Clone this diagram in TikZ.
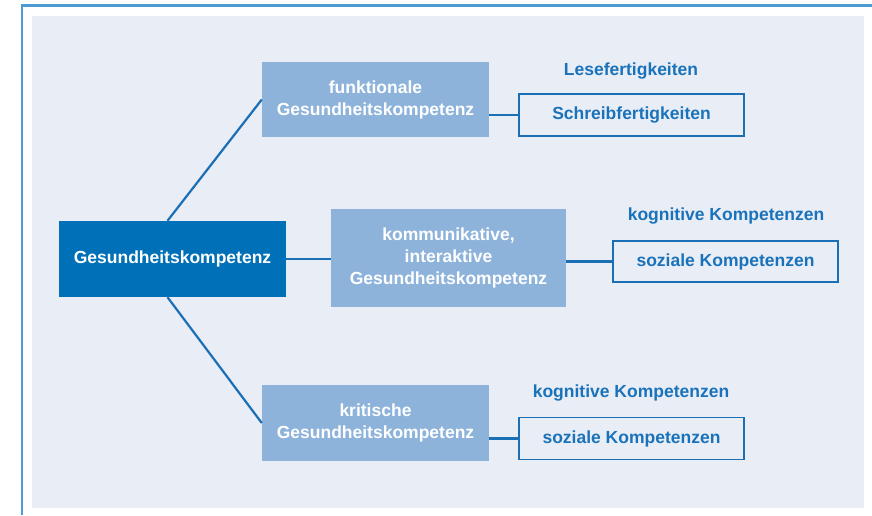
\documentclass[tikz,border=0pt]{standalone}
\usepackage{fontspec}
\setmainfont{Liberation Sans}
\usetikzlibrary{calc}
\definecolor{bgfill}{HTML}{E9EDF6}
\definecolor{framec}{HTML}{4C9BD2}
\definecolor{darkbox}{HTML}{0070B8}
\definecolor{lightbox}{HTML}{8DB3DB}
\definecolor{bluetxt}{HTML}{1A73BA}
\definecolor{linec}{HTML}{1A6FB5}
\tikzset{
  lbl/.style={font=\fontsize{17.5}{22}\selectfont\bfseries, align=center, inner sep=0pt},
  mainbox/.style={lbl, fill=darkbox, text=white},
  subbox/.style={lbl, fill=lightbox, text=white},
  outbox/.style={lbl, draw=linec, line width=1.4pt, text=bluetxt},
  plain/.style={lbl, text=bluetxt},
  conn/.style={draw=linec, line width=2.2pt},
}
\begin{document}
\begin{tikzpicture}[x=1pt,y=-1pt]
\useasboundingbox (0,0) rectangle (872,515);
\fill[bgfill] (32,16) rectangle (864,508);
\draw[framec, line width=2.2pt] (22,515) -- (22,5.5) -- (872,5.5);

\node[mainbox, minimum width=227pt, minimum height=76pt] (main) at (172.5,259) {Gesundheitskompetenz};
\node[subbox, minimum width=227pt, minimum height=75pt] (funk) at (375.5,99.5) {funktionale\\Gesundheitskompetenz};
\node[subbox, minimum width=235pt, minimum height=98pt] (komm) at (448.5,258) {kommunikative,\\interaktive\\Gesundheitskompetenz};
\node[subbox, minimum width=227pt, minimum height=76pt] (krit) at (375.5,423) {kritische\\Gesundheitskompetenz};

\node[plain] (lese) at (631,71.5) {Lesefertigkeiten};
\node[outbox, minimum width=225pt, minimum height=42pt] (schreib) at (631.5,115) {Schreibfertigkeiten};
\node[plain] (kog1) at (726,216.5) {kognitive Kompetenzen};
\node[outbox, minimum width=225pt, minimum height=41pt] (soz1) at (725.5,261.5) {soziale Kompetenzen};
\node[plain] (kog2) at (631,393.5) {kognitive Kompetenzen};
\node[outbox, minimum width=225pt, minimum height=42pt] (soz2) at (631.5,438.5) {soziale Kompetenzen};

\draw[conn] ($(main.north)+(-5,0)$) -- (funk.west);
\draw[conn] ($(main.south)+(-5,0)$) -- (krit.west);
\draw[conn] (main.east) -- (main.east -| komm.west);
\draw[conn] (schreib.west -| funk.east) -- (schreib.west);
\draw[conn] (soz1.west -| komm.east) -- (soz1.west);
\draw[conn] (soz2.west -| krit.east) -- (soz2.west);
\end{tikzpicture}
\end{document}
